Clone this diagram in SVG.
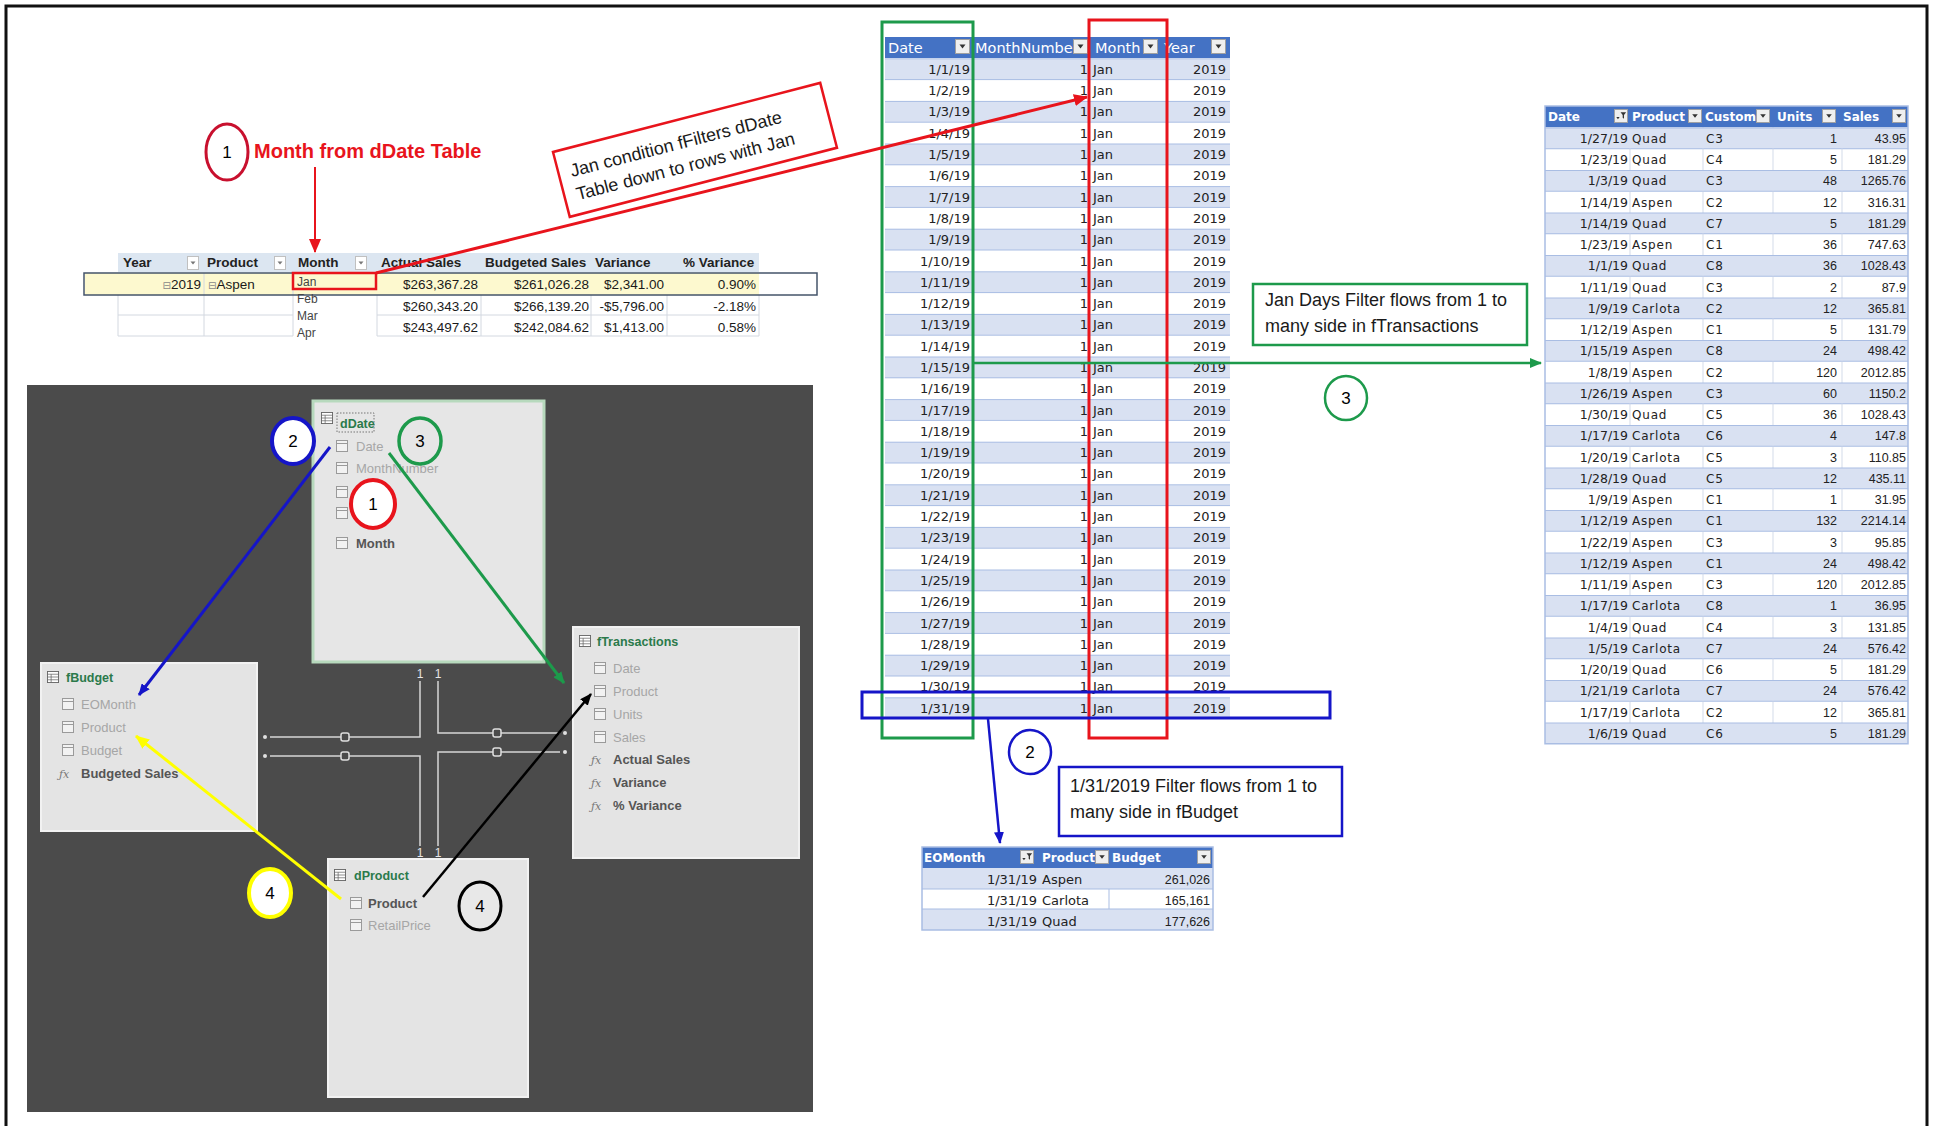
<svg xmlns="http://www.w3.org/2000/svg" width="1936" height="1126" viewBox="0 0 1936 1126">
<defs>
<style>
.frame{fill:none;stroke:#111;stroke-width:3}
.pv{font-family:"Liberation Sans",Arial,sans-serif;font-size:13.5px;fill:#1a1a1a}
.pvh{font-family:"Liberation Sans",Arial,sans-serif;font-size:13.5px;font-weight:bold;fill:#222}
.mo{font-family:"Liberation Sans",Arial,sans-serif;font-size:12px;fill:#444}
.r{text-anchor:end}
.xl{font-family:"DejaVu Sans",sans-serif;font-size:13px;fill:#222}
.xs{font-family:"DejaVu Sans",sans-serif;font-size:12.5px;fill:#222}
.xsp{font-family:"DejaVu Sans",sans-serif;font-size:12px;fill:#222;letter-spacing:0.8px}
.xn{font-family:"Liberation Sans",Arial,sans-serif;font-size:12.5px;fill:#222}
.xhd{font-family:"DejaVu Sans",sans-serif;font-size:14.5px;fill:#fff}
.xhb{font-family:"DejaVu Sans",sans-serif;font-size:12px;font-weight:bold;fill:#fff}
.call{font-family:"Liberation Sans",Arial,sans-serif;font-size:18px;fill:#1a1a1a}
.num{font-family:"Liberation Sans",Arial,sans-serif;font-size:17px;fill:#000;text-anchor:middle}
.box{fill:#e4e4e4;stroke:#f2f2f2;stroke-width:2}
.ttl{font-family:"Liberation Sans",Arial,sans-serif;font-size:12.5px;font-weight:bold;fill:#2b7a4b}
.fld{font-family:"Liberation Sans",Arial,sans-serif;font-size:13px;fill:#a6a6a6}
.fldb{font-family:"Liberation Sans",Arial,sans-serif;font-size:13px;font-weight:bold;fill:#555}
.fx{font-family:"DejaVu Serif",serif;font-size:11px;font-style:italic;fill:#777}
.rel{fill:none;stroke:#d6d6d6;stroke-width:1.5}
.relm{fill:#4b4b4b;stroke:#e0e0e0;stroke-width:1.5}
.one{font-family:"Liberation Sans",Arial,sans-serif;font-size:12px;fill:#e6e6e6;text-anchor:middle}
</style>
<marker id="aR" markerUnits="userSpaceOnUse" markerWidth="14" markerHeight="12" refX="13" refY="6" orient="auto"><path d="M0,0L14,6L0,12z" fill="#e8141c"/></marker>
<marker id="aG" markerUnits="userSpaceOnUse" markerWidth="12" markerHeight="10" refX="11" refY="5" orient="auto"><path d="M0,0L12,5L0,10z" fill="#1d9a4b"/></marker>
<marker id="aB" markerUnits="userSpaceOnUse" markerWidth="12" markerHeight="10" refX="11" refY="5" orient="auto"><path d="M0,0L12,5L0,10z" fill="#1515c8"/></marker>
<marker id="aY" markerUnits="userSpaceOnUse" markerWidth="14" markerHeight="12" refX="13" refY="6" orient="auto"><path d="M0,0L14,6L0,12z" fill="#ffff00"/></marker>
<marker id="aK" markerUnits="userSpaceOnUse" markerWidth="12" markerHeight="10" refX="11" refY="5" orient="auto"><path d="M0,0L12,5L0,10z" fill="#000"/></marker>
<symbol id="pdd" viewBox="0 0 12 14"><rect x=".5" y=".5" width="11" height="13" fill="#fff" stroke="#c0c0c0"/><path d="M3.5 5.5h5l-2.5 3z" fill="#777"/></symbol>
<symbol id="dd" viewBox="0 0 15 15"><rect x=".5" y=".5" width="14" height="14" fill="#efefef" stroke="#a0a0a0"/><path d="M4.5 5.5h6l-3 4z" fill="#333"/></symbol>
<symbol id="fb" viewBox="0 0 15 15"><rect x=".5" y=".5" width="14" height="14" fill="#efefef" stroke="#a0a0a0"/><path d="M7 3.5h6l-2.3 3v4l-1.4-1v-3z" fill="#333"/><path d="M2.5 8.5h3.5l-1.75 2.5z" fill="#333"/></symbol>
<symbol id="fi" viewBox="0 0 12 12"><rect x=".5" y=".5" width="11" height="11" fill="#f2f2f2" stroke="#9a9a9a"/><path d="M.5 3.5H11.5" stroke="#9a9a9a"/></symbol>
<symbol id="ti" viewBox="0 0 13 13"><rect x=".5" y=".5" width="12" height="12" fill="#fff" stroke="#666"/><path d="M.5 3.5H12.5M.5 6.5H12.5M.5 9.5H12.5M4.5 3.5V12.5" stroke="#666" stroke-width=".8"/></symbol>
<pattern id="pD" x="885" y="58.3" width="345" height="42.6" patternUnits="userSpaceOnUse"><rect width="345" height="21.3" fill="#d9e1f2"/><rect y="21.3" width="345" height="21.3" fill="#fff"/><path d="M0 .5H345M0 21.3H345" stroke="#a9bde3" stroke-width="1"/></pattern>
<pattern id="pT" x="1545" y="127.5" width="363" height="42.5" patternUnits="userSpaceOnUse"><rect width="363" height="21.25" fill="#d9e1f2"/><rect y="21.25" width="363" height="21.25" fill="#fff"/><path d="M0 .5H363M0 21.25H363" stroke="#a9bde3" stroke-width="1"/><path d="M85 21.25V42.5M158 21.25V42.5M228 21.25V42.5M297 21.25V42.5" stroke="#d3dbea" stroke-width="1"/></pattern>
</defs>
<rect width="1936" height="1126" fill="#fff"/>
<path class="frame" d="M6 1126V6H1927V1126"/>

<g id="pivot">
<rect x="118" y="253" width="641" height="19" fill="#dce6f1"/>
<text class="pvh" x="123" y="267">Year</text>
<text class="pvh" x="207" y="267">Product</text>
<text class="pvh" x="298" y="267" fill="#1f3864">Month</text>
<text class="pvh" x="381" y="267">Actual Sales</text>
<text class="pvh" x="485" y="267">Budgeted Sales</text>
<text class="pvh" x="595" y="267">Variance</text>
<text class="pvh" x="683" y="267">% Variance</text>
<use href="#pdd" x="187" y="256" width="12" height="14"/>
<use href="#pdd" x="274" y="256" width="12" height="14"/>
<use href="#pdd" x="355" y="256" width="12" height="14"/>
<rect x="85" y="273" width="674" height="22" fill="#fdf9cf"/>
<path d="M204 273V336M293 273V336M118 295V336M377 295V336M481 295V336M591 295V336M667 295V336M759 295V336M118 315H293M118 336H293M377 315H759M377 336H759" stroke="#d3d8e0" stroke-width="1" fill="none"/>
<rect x="84" y="273" width="733" height="22" fill="none" stroke="#44546a" stroke-width="1.5"/>
<text class="pv r" x="201" y="289"><tspan font-family="DejaVu Sans" font-size="10" fill="#888">⊟</tspan>2019</text>
<text class="pv" x="208" y="289"><tspan font-family="DejaVu Sans" font-size="10" fill="#888">⊟</tspan>Aspen</text>
<text class="mo" x="297" y="286" fill="#5b5b3b">Jan</text>
<text class="mo" x="297" y="303">Feb</text>
<text class="mo" x="297" y="320">Mar</text>
<text class="mo" x="297" y="337">Apr</text>
<rect x="293" y="273" width="83" height="16" fill="none" stroke="#e8141c" stroke-width="2.5"/>
<text class="pv r" x="478" y="289">$263,367.28</text>
<text class="pv r" x="589" y="289">$261,026.28</text>
<text class="pv r" x="664" y="289">$2,341.00</text>
<text class="pv r" x="756" y="289">0.90%</text>
<text class="pv r" x="478" y="311">$260,343.20</text>
<text class="pv r" x="589" y="311">$266,139.20</text>
<text class="pv r" x="664" y="311">-$5,796.00</text>
<text class="pv r" x="756" y="311">-2.18%</text>
<text class="pv r" x="478" y="332">$243,497.62</text>
<text class="pv r" x="589" y="332">$242,084.62</text>
<text class="pv r" x="664" y="332">$1,413.00</text>
<text class="pv r" x="756" y="332">0.58%</text>
</g>

<g id="title1">
<ellipse cx="227" cy="152" rx="21" ry="28" fill="none" stroke="#c8102e" stroke-width="3"/>
<text class="num" x="227" y="158">1</text>
<text x="254" y="158" font-family="Liberation Sans, Arial, sans-serif" font-size="20" font-weight="bold" fill="#e8141c">Month from dDate Table</text>
</g>

<g id="callout-red" transform="translate(553,152) rotate(-14.5)">
<rect x="0" y="0" width="276" height="67" fill="#fff" stroke="#e8141c" stroke-width="2.5"/>
<text class="call" x="12" y="29">Jan condition fFilters dDate</text>
<text class="call" x="12" y="53">Table down to rows with Jan</text>
</g>

<g id="dDate-table">
<rect x="885" y="37" width="345" height="21.3" fill="#4472c4"/>
<text class="xhd" x="888" y="52.5">Date</text>
<text class="xhd" x="975" y="52.5">MonthNumbe</text>
<text class="xhd" x="1095" y="52.5">Month</text>
<text class="xhd" x="1164" y="52.5">Year</text>
<use href="#dd" x="955" y="39" width="15" height="15"/>
<use href="#dd" x="1073" y="39" width="15" height="15"/>
<use href="#dd" x="1143" y="39" width="15" height="15"/>
<use href="#dd" x="1211" y="39" width="15" height="15"/>
<rect x="885" y="58.3" width="345" height="660.3" fill="url(#pD)"/>
<text class="xl r" y="73.8"><tspan x="970">1/1/19</tspan><tspan x="970" dy="21.3">1/2/19</tspan><tspan x="970" dy="21.3">1/3/19</tspan><tspan x="970" dy="21.3">1/4/19</tspan><tspan x="970" dy="21.3">1/5/19</tspan><tspan x="970" dy="21.3">1/6/19</tspan><tspan x="970" dy="21.3">1/7/19</tspan><tspan x="970" dy="21.3">1/8/19</tspan><tspan x="970" dy="21.3">1/9/19</tspan><tspan x="970" dy="21.3">1/10/19</tspan><tspan x="970" dy="21.3">1/11/19</tspan><tspan x="970" dy="21.3">1/12/19</tspan><tspan x="970" dy="21.3">1/13/19</tspan><tspan x="970" dy="21.3">1/14/19</tspan><tspan x="970" dy="21.3">1/15/19</tspan><tspan x="970" dy="21.3">1/16/19</tspan><tspan x="970" dy="21.3">1/17/19</tspan><tspan x="970" dy="21.3">1/18/19</tspan><tspan x="970" dy="21.3">1/19/19</tspan><tspan x="970" dy="21.3">1/20/19</tspan><tspan x="970" dy="21.3">1/21/19</tspan><tspan x="970" dy="21.3">1/22/19</tspan><tspan x="970" dy="21.3">1/23/19</tspan><tspan x="970" dy="21.3">1/24/19</tspan><tspan x="970" dy="21.3">1/25/19</tspan><tspan x="970" dy="21.3">1/26/19</tspan><tspan x="970" dy="21.3">1/27/19</tspan><tspan x="970" dy="21.3">1/28/19</tspan><tspan x="970" dy="21.3">1/29/19</tspan><tspan x="970" dy="21.3">1/30/19</tspan><tspan x="970" dy="21.3">1/31/19</tspan></text>
<text class="xl r" y="73.8"><tspan x="1088">1</tspan><tspan x="1088" dy="21.3">1</tspan><tspan x="1088" dy="21.3">1</tspan><tspan x="1088" dy="21.3">1</tspan><tspan x="1088" dy="21.3">1</tspan><tspan x="1088" dy="21.3">1</tspan><tspan x="1088" dy="21.3">1</tspan><tspan x="1088" dy="21.3">1</tspan><tspan x="1088" dy="21.3">1</tspan><tspan x="1088" dy="21.3">1</tspan><tspan x="1088" dy="21.3">1</tspan><tspan x="1088" dy="21.3">1</tspan><tspan x="1088" dy="21.3">1</tspan><tspan x="1088" dy="21.3">1</tspan><tspan x="1088" dy="21.3">1</tspan><tspan x="1088" dy="21.3">1</tspan><tspan x="1088" dy="21.3">1</tspan><tspan x="1088" dy="21.3">1</tspan><tspan x="1088" dy="21.3">1</tspan><tspan x="1088" dy="21.3">1</tspan><tspan x="1088" dy="21.3">1</tspan><tspan x="1088" dy="21.3">1</tspan><tspan x="1088" dy="21.3">1</tspan><tspan x="1088" dy="21.3">1</tspan><tspan x="1088" dy="21.3">1</tspan><tspan x="1088" dy="21.3">1</tspan><tspan x="1088" dy="21.3">1</tspan><tspan x="1088" dy="21.3">1</tspan><tspan x="1088" dy="21.3">1</tspan><tspan x="1088" dy="21.3">1</tspan><tspan x="1088" dy="21.3">1</tspan></text>
<text class="xl" y="73.8"><tspan x="1093">Jan</tspan><tspan x="1093" dy="21.3">Jan</tspan><tspan x="1093" dy="21.3">Jan</tspan><tspan x="1093" dy="21.3">Jan</tspan><tspan x="1093" dy="21.3">Jan</tspan><tspan x="1093" dy="21.3">Jan</tspan><tspan x="1093" dy="21.3">Jan</tspan><tspan x="1093" dy="21.3">Jan</tspan><tspan x="1093" dy="21.3">Jan</tspan><tspan x="1093" dy="21.3">Jan</tspan><tspan x="1093" dy="21.3">Jan</tspan><tspan x="1093" dy="21.3">Jan</tspan><tspan x="1093" dy="21.3">Jan</tspan><tspan x="1093" dy="21.3">Jan</tspan><tspan x="1093" dy="21.3">Jan</tspan><tspan x="1093" dy="21.3">Jan</tspan><tspan x="1093" dy="21.3">Jan</tspan><tspan x="1093" dy="21.3">Jan</tspan><tspan x="1093" dy="21.3">Jan</tspan><tspan x="1093" dy="21.3">Jan</tspan><tspan x="1093" dy="21.3">Jan</tspan><tspan x="1093" dy="21.3">Jan</tspan><tspan x="1093" dy="21.3">Jan</tspan><tspan x="1093" dy="21.3">Jan</tspan><tspan x="1093" dy="21.3">Jan</tspan><tspan x="1093" dy="21.3">Jan</tspan><tspan x="1093" dy="21.3">Jan</tspan><tspan x="1093" dy="21.3">Jan</tspan><tspan x="1093" dy="21.3">Jan</tspan><tspan x="1093" dy="21.3">Jan</tspan><tspan x="1093" dy="21.3">Jan</tspan></text>
<text class="xl r" y="73.8"><tspan x="1226">2019</tspan><tspan x="1226" dy="21.3">2019</tspan><tspan x="1226" dy="21.3">2019</tspan><tspan x="1226" dy="21.3">2019</tspan><tspan x="1226" dy="21.3">2019</tspan><tspan x="1226" dy="21.3">2019</tspan><tspan x="1226" dy="21.3">2019</tspan><tspan x="1226" dy="21.3">2019</tspan><tspan x="1226" dy="21.3">2019</tspan><tspan x="1226" dy="21.3">2019</tspan><tspan x="1226" dy="21.3">2019</tspan><tspan x="1226" dy="21.3">2019</tspan><tspan x="1226" dy="21.3">2019</tspan><tspan x="1226" dy="21.3">2019</tspan><tspan x="1226" dy="21.3">2019</tspan><tspan x="1226" dy="21.3">2019</tspan><tspan x="1226" dy="21.3">2019</tspan><tspan x="1226" dy="21.3">2019</tspan><tspan x="1226" dy="21.3">2019</tspan><tspan x="1226" dy="21.3">2019</tspan><tspan x="1226" dy="21.3">2019</tspan><tspan x="1226" dy="21.3">2019</tspan><tspan x="1226" dy="21.3">2019</tspan><tspan x="1226" dy="21.3">2019</tspan><tspan x="1226" dy="21.3">2019</tspan><tspan x="1226" dy="21.3">2019</tspan><tspan x="1226" dy="21.3">2019</tspan><tspan x="1226" dy="21.3">2019</tspan><tspan x="1226" dy="21.3">2019</tspan><tspan x="1226" dy="21.3">2019</tspan><tspan x="1226" dy="21.3">2019</tspan></text>
<rect x="882" y="22" width="91" height="716" fill="none" stroke="#1d9a4b" stroke-width="3"/>
<rect x="1089" y="20" width="78" height="718" fill="none" stroke="#e8141c" stroke-width="3"/>
<rect x="862" y="692" width="468" height="26" fill="none" stroke="#1515c8" stroke-width="3"/>
</g>

<g id="fTransactions-table">
<rect x="1545" y="106" width="363" height="21.5" fill="#4472c4"/>
<text class="xhb" x="1548" y="121">Date</text>
<text class="xhb" x="1632" y="121">Product</text>
<text class="xhb" x="1705" y="121">Custom</text>
<text class="xhb" x="1777" y="121">Units</text>
<text class="xhb" x="1843" y="121">Sales</text>
<use href="#fb" x="1614" y="109" width="14" height="14"/>
<use href="#dd" x="1688" y="109" width="14" height="14"/>
<use href="#dd" x="1756" y="109" width="14" height="14"/>
<use href="#dd" x="1822" y="109" width="14" height="14"/>
<use href="#dd" x="1892" y="109" width="14" height="14"/>
<rect x="1545" y="127.5" width="363" height="616.25" fill="url(#pT)"/>
<rect x="1545" y="106" width="363" height="637.75" fill="none" stroke="#a9bde3" stroke-width="1.5"/>
<text class="xs r" y="142.8"><tspan x="1628">1/27/19</tspan><tspan x="1628" dy="21.25">1/23/19</tspan><tspan x="1628" dy="21.25">1/3/19</tspan><tspan x="1628" dy="21.25">1/14/19</tspan><tspan x="1628" dy="21.25">1/14/19</tspan><tspan x="1628" dy="21.25">1/23/19</tspan><tspan x="1628" dy="21.25">1/1/19</tspan><tspan x="1628" dy="21.25">1/11/19</tspan><tspan x="1628" dy="21.25">1/9/19</tspan><tspan x="1628" dy="21.25">1/12/19</tspan><tspan x="1628" dy="21.25">1/15/19</tspan><tspan x="1628" dy="21.25">1/8/19</tspan><tspan x="1628" dy="21.25">1/26/19</tspan><tspan x="1628" dy="21.25">1/30/19</tspan><tspan x="1628" dy="21.25">1/17/19</tspan><tspan x="1628" dy="21.25">1/20/19</tspan><tspan x="1628" dy="21.25">1/28/19</tspan><tspan x="1628" dy="21.25">1/9/19</tspan><tspan x="1628" dy="21.25">1/12/19</tspan><tspan x="1628" dy="21.25">1/22/19</tspan><tspan x="1628" dy="21.25">1/12/19</tspan><tspan x="1628" dy="21.25">1/11/19</tspan><tspan x="1628" dy="21.25">1/17/19</tspan><tspan x="1628" dy="21.25">1/4/19</tspan><tspan x="1628" dy="21.25">1/5/19</tspan><tspan x="1628" dy="21.25">1/20/19</tspan><tspan x="1628" dy="21.25">1/21/19</tspan><tspan x="1628" dy="21.25">1/17/19</tspan><tspan x="1628" dy="21.25">1/6/19</tspan></text>
<text class="xsp" y="142.8"><tspan x="1632">Quad</tspan><tspan x="1632" dy="21.25">Quad</tspan><tspan x="1632" dy="21.25">Quad</tspan><tspan x="1632" dy="21.25">Aspen</tspan><tspan x="1632" dy="21.25">Quad</tspan><tspan x="1632" dy="21.25">Aspen</tspan><tspan x="1632" dy="21.25">Quad</tspan><tspan x="1632" dy="21.25">Quad</tspan><tspan x="1632" dy="21.25">Carlota</tspan><tspan x="1632" dy="21.25">Aspen</tspan><tspan x="1632" dy="21.25">Aspen</tspan><tspan x="1632" dy="21.25">Aspen</tspan><tspan x="1632" dy="21.25">Aspen</tspan><tspan x="1632" dy="21.25">Quad</tspan><tspan x="1632" dy="21.25">Carlota</tspan><tspan x="1632" dy="21.25">Carlota</tspan><tspan x="1632" dy="21.25">Quad</tspan><tspan x="1632" dy="21.25">Aspen</tspan><tspan x="1632" dy="21.25">Aspen</tspan><tspan x="1632" dy="21.25">Aspen</tspan><tspan x="1632" dy="21.25">Aspen</tspan><tspan x="1632" dy="21.25">Aspen</tspan><tspan x="1632" dy="21.25">Carlota</tspan><tspan x="1632" dy="21.25">Quad</tspan><tspan x="1632" dy="21.25">Carlota</tspan><tspan x="1632" dy="21.25">Quad</tspan><tspan x="1632" dy="21.25">Carlota</tspan><tspan x="1632" dy="21.25">Carlota</tspan><tspan x="1632" dy="21.25">Quad</tspan></text>
<text class="xsp" y="142.8"><tspan x="1706">C3</tspan><tspan x="1706" dy="21.25">C4</tspan><tspan x="1706" dy="21.25">C3</tspan><tspan x="1706" dy="21.25">C2</tspan><tspan x="1706" dy="21.25">C7</tspan><tspan x="1706" dy="21.25">C1</tspan><tspan x="1706" dy="21.25">C8</tspan><tspan x="1706" dy="21.25">C3</tspan><tspan x="1706" dy="21.25">C2</tspan><tspan x="1706" dy="21.25">C1</tspan><tspan x="1706" dy="21.25">C8</tspan><tspan x="1706" dy="21.25">C2</tspan><tspan x="1706" dy="21.25">C3</tspan><tspan x="1706" dy="21.25">C5</tspan><tspan x="1706" dy="21.25">C6</tspan><tspan x="1706" dy="21.25">C5</tspan><tspan x="1706" dy="21.25">C5</tspan><tspan x="1706" dy="21.25">C1</tspan><tspan x="1706" dy="21.25">C1</tspan><tspan x="1706" dy="21.25">C3</tspan><tspan x="1706" dy="21.25">C1</tspan><tspan x="1706" dy="21.25">C3</tspan><tspan x="1706" dy="21.25">C8</tspan><tspan x="1706" dy="21.25">C4</tspan><tspan x="1706" dy="21.25">C7</tspan><tspan x="1706" dy="21.25">C6</tspan><tspan x="1706" dy="21.25">C7</tspan><tspan x="1706" dy="21.25">C2</tspan><tspan x="1706" dy="21.25">C6</tspan></text>
<text class="xn r" y="142.8"><tspan x="1837">1</tspan><tspan x="1837" dy="21.25">5</tspan><tspan x="1837" dy="21.25">48</tspan><tspan x="1837" dy="21.25">12</tspan><tspan x="1837" dy="21.25">5</tspan><tspan x="1837" dy="21.25">36</tspan><tspan x="1837" dy="21.25">36</tspan><tspan x="1837" dy="21.25">2</tspan><tspan x="1837" dy="21.25">12</tspan><tspan x="1837" dy="21.25">5</tspan><tspan x="1837" dy="21.25">24</tspan><tspan x="1837" dy="21.25">120</tspan><tspan x="1837" dy="21.25">60</tspan><tspan x="1837" dy="21.25">36</tspan><tspan x="1837" dy="21.25">4</tspan><tspan x="1837" dy="21.25">3</tspan><tspan x="1837" dy="21.25">12</tspan><tspan x="1837" dy="21.25">1</tspan><tspan x="1837" dy="21.25">132</tspan><tspan x="1837" dy="21.25">3</tspan><tspan x="1837" dy="21.25">24</tspan><tspan x="1837" dy="21.25">120</tspan><tspan x="1837" dy="21.25">1</tspan><tspan x="1837" dy="21.25">3</tspan><tspan x="1837" dy="21.25">24</tspan><tspan x="1837" dy="21.25">5</tspan><tspan x="1837" dy="21.25">24</tspan><tspan x="1837" dy="21.25">12</tspan><tspan x="1837" dy="21.25">5</tspan></text>
<text class="xn r" y="142.8"><tspan x="1906">43.95</tspan><tspan x="1906" dy="21.25">181.29</tspan><tspan x="1906" dy="21.25">1265.76</tspan><tspan x="1906" dy="21.25">316.31</tspan><tspan x="1906" dy="21.25">181.29</tspan><tspan x="1906" dy="21.25">747.63</tspan><tspan x="1906" dy="21.25">1028.43</tspan><tspan x="1906" dy="21.25">87.9</tspan><tspan x="1906" dy="21.25">365.81</tspan><tspan x="1906" dy="21.25">131.79</tspan><tspan x="1906" dy="21.25">498.42</tspan><tspan x="1906" dy="21.25">2012.85</tspan><tspan x="1906" dy="21.25">1150.2</tspan><tspan x="1906" dy="21.25">1028.43</tspan><tspan x="1906" dy="21.25">147.8</tspan><tspan x="1906" dy="21.25">110.85</tspan><tspan x="1906" dy="21.25">435.11</tspan><tspan x="1906" dy="21.25">31.95</tspan><tspan x="1906" dy="21.25">2214.14</tspan><tspan x="1906" dy="21.25">95.85</tspan><tspan x="1906" dy="21.25">498.42</tspan><tspan x="1906" dy="21.25">2012.85</tspan><tspan x="1906" dy="21.25">36.95</tspan><tspan x="1906" dy="21.25">131.85</tspan><tspan x="1906" dy="21.25">576.42</tspan><tspan x="1906" dy="21.25">181.29</tspan><tspan x="1906" dy="21.25">576.42</tspan><tspan x="1906" dy="21.25">365.81</tspan><tspan x="1906" dy="21.25">181.29</tspan></text>
</g>

<g id="fBudget-table">
<rect x="922" y="847" width="291" height="21" fill="#4472c4"/>
<text class="xhb" x="924" y="862">EOMonth</text>
<text class="xhb" x="1042" y="862">Product</text>
<text class="xhb" x="1112" y="862">Budget</text>
<use href="#fb" x="1020" y="850" width="14" height="14"/>
<use href="#dd" x="1095" y="850" width="14" height="14"/>
<use href="#dd" x="1197" y="850" width="14" height="14"/>
<rect x="922" y="868" width="291" height="21" fill="#d9e1f2"/>
<rect x="922" y="889" width="291" height="20" fill="#fff"/>
<rect x="922" y="909" width="291" height="21" fill="#d9e1f2"/>
<path d="M922 889H1213M922 909H1213M1109 889V909" stroke="#a9bde3" stroke-width="1"/>
<rect x="922" y="847" width="291" height="83" fill="none" stroke="#a9bde3" stroke-width="1.5"/>
<text class="xl r" x="1037" y="884">1/31/19</text>
<text class="xl r" x="1037" y="905">1/31/19</text>
<text class="xl r" x="1037" y="926">1/31/19</text>
<text class="xl" x="1042" y="884">Aspen</text>
<text class="xl" x="1042" y="905">Carlota</text>
<text class="xl" x="1042" y="926">Quad</text>
<text class="xn r" x="1210" y="884">261,026</text>
<text class="xn r" x="1210" y="905">165,161</text>
<text class="xn r" x="1210" y="926">177,626</text>
</g>

<g id="callout-green">
<rect x="1253" y="284" width="274" height="61" fill="#fff" stroke="#1d9a4b" stroke-width="2.5"/>
<text class="call" x="1265" y="306">Jan Days Filter flows from 1 to</text>
<text class="call" x="1265" y="332">many side in fTransactions</text>
</g>

<g id="callout-blue">
<rect x="1059" y="767" width="283" height="69" fill="#fff" stroke="#1515c8" stroke-width="2.5"/>
<text class="call" x="1070" y="792">1/31/2019 Filter flows from 1 to</text>
<text class="call" x="1070" y="818">many side in fBudget</text>
</g>

<rect id="model-panel" x="27" y="385" width="786" height="727" fill="#4b4b4b"/>

<g id="node-dDate">
<rect x="313" y="401" width="231" height="261" fill="#e6e6e6" stroke="#b7d9bd" stroke-width="3"/>
<use href="#ti" x="321" y="412" width="12" height="12"/>
<rect x="337" y="413" width="37" height="19" fill="none" stroke="#777" stroke-width="1" stroke-dasharray="1.5,1.5"/>
<text class="ttl" x="340" y="428">dDate</text>
<use href="#fi" x="336" y="440" width="12" height="12"/>
<text class="fld" x="356" y="451">Date</text>
<use href="#fi" x="336" y="462" width="12" height="12"/>
<text class="fld" x="356" y="473">MonthNumber</text>
<use href="#fi" x="336" y="486" width="12" height="12"/>
<use href="#fi" x="336" y="507" width="12" height="12"/>
<use href="#fi" x="336" y="537" width="12" height="12"/>
<text class="fldb" x="356" y="548">Month</text>
</g>

<g id="node-fBudget">
<rect x="41" y="663" width="216" height="168" class="box"/>
<use href="#ti" x="47" y="671" width="12" height="12"/>
<text class="ttl" x="66" y="682">fBudget</text>
<use href="#fi" x="62" y="698" width="12" height="12"/>
<text class="fld" x="81" y="709">EOMonth</text>
<use href="#fi" x="62" y="721" width="12" height="12"/>
<text class="fld" x="81" y="732">Product</text>
<use href="#fi" x="62" y="744" width="12" height="12"/>
<text class="fld" x="81" y="755">Budget</text>
<text class="fx" x="59" y="778">ƒx</text>
<text class="fldb" x="81" y="778">Budgeted Sales</text>
</g>

<g id="node-fTransactions">
<rect x="573" y="627" width="226" height="231" class="box"/>
<use href="#ti" x="579" y="635" width="12" height="12"/>
<text class="ttl" x="597" y="646">fTransactions</text>
<use href="#fi" x="594" y="662" width="12" height="12"/>
<text class="fld" x="613" y="673">Date</text>
<use href="#fi" x="594" y="685" width="12" height="12"/>
<text class="fld" x="613" y="696">Product</text>
<use href="#fi" x="594" y="708" width="12" height="12"/>
<text class="fld" x="613" y="719">Units</text>
<use href="#fi" x="594" y="731" width="12" height="12"/>
<text class="fld" x="613" y="742">Sales</text>
<text class="fx" x="591" y="764">ƒx</text>
<text class="fldb" x="613" y="764">Actual Sales</text>
<text class="fx" x="591" y="787">ƒx</text>
<text class="fldb" x="613" y="787">Variance</text>
<text class="fx" x="591" y="810">ƒx</text>
<text class="fldb" x="613" y="810">% Variance</text>
</g>

<g id="node-dProduct">
<rect x="328" y="859" width="200" height="238" class="box"/>
<use href="#ti" x="334" y="869" width="12" height="12"/>
<text class="ttl" x="354" y="880">dProduct</text>
<use href="#fi" x="350" y="897" width="12" height="12"/>
<text class="fldb" x="368" y="908">Product</text>
<use href="#fi" x="350" y="919" width="12" height="12"/>
<text class="fld" x="368" y="930">RetailPrice</text>
</g>

<g id="connectors">
<path class="rel" d="M420 681V737H270"/>
<path class="rel" d="M438 681V733H560"/>
<path class="rel" d="M420 846V756H270"/>
<path class="rel" d="M438 846V752H560"/>
<rect class="relm" x="341" y="733" width="8" height="8" rx="2"/>
<rect class="relm" x="493" y="729" width="8" height="8" rx="2"/>
<rect class="relm" x="341" y="752" width="8" height="8" rx="2"/>
<rect class="relm" x="493" y="748" width="8" height="8" rx="2"/>
<circle cx="265" cy="737" r="2" fill="#e0e0e0"/>
<circle cx="565" cy="733" r="2" fill="#e0e0e0"/>
<circle cx="265" cy="756" r="2" fill="#e0e0e0"/>
<circle cx="565" cy="752" r="2" fill="#e0e0e0"/>
<text class="one" x="420" y="678">1</text>
<text class="one" x="438" y="678">1</text>
<text class="one" x="420" y="857">1</text>
<text class="one" x="438" y="857">1</text>
<path d="M315 167V252" stroke="#e8141c" stroke-width="2" fill="none" marker-end="url(#aR)"/>
<path d="M376 273L1087 97" stroke="#e8141c" stroke-width="3" fill="none" marker-end="url(#aR)"/>
<path d="M973 363H1541" stroke="#1d9a4b" stroke-width="2.5" fill="none" marker-end="url(#aG)"/>
<path d="M988 719L1000 843" stroke="#1515c8" stroke-width="2.5" fill="none" marker-end="url(#aB)"/>
<path d="M330 447L139 695" stroke="#1515c8" stroke-width="3" fill="none" marker-end="url(#aB)"/>
<path d="M389 453L564 683" stroke="#1d9a4b" stroke-width="3" fill="none" marker-end="url(#aG)"/>
<path d="M341 899L136 736" stroke="#ffff00" stroke-width="3" fill="none" marker-end="url(#aY)"/>
<path d="M423 897L591 694" stroke="#000" stroke-width="2.5" fill="none" marker-end="url(#aK)"/>
</g>

<g id="badges">
<ellipse cx="373" cy="504" rx="22" ry="24" fill="#fff" stroke="#e8141c" stroke-width="4"/>
<text class="num" x="373" y="510">1</text>
<ellipse cx="293" cy="441" rx="21" ry="23" fill="#fff" stroke="#1515c8" stroke-width="4"/>
<text class="num" x="293" y="447">2</text>
<ellipse cx="420" cy="441" rx="21" ry="23" fill="#e6e6e6" stroke="#1d9a4b" stroke-width="3.5"/>
<text class="num" x="420" y="447">3</text>
<ellipse cx="270" cy="893" rx="21" ry="24" fill="#fff" stroke="#ffff00" stroke-width="4"/>
<text class="num" x="270" y="899">4</text>
<ellipse cx="480" cy="906" rx="21" ry="24" fill="#e8e8e8" stroke="#000" stroke-width="3"/>
<text class="num" x="480" y="912">4</text>
<ellipse cx="1030" cy="752" rx="21" ry="22" fill="none" stroke="#1515c8" stroke-width="2.5"/>
<text class="num" x="1030" y="758">2</text>
<ellipse cx="1346" cy="398" rx="21" ry="22" fill="none" stroke="#1d9a4b" stroke-width="2.5"/>
<text class="num" x="1346" y="404">3</text>
</g>
</svg>
